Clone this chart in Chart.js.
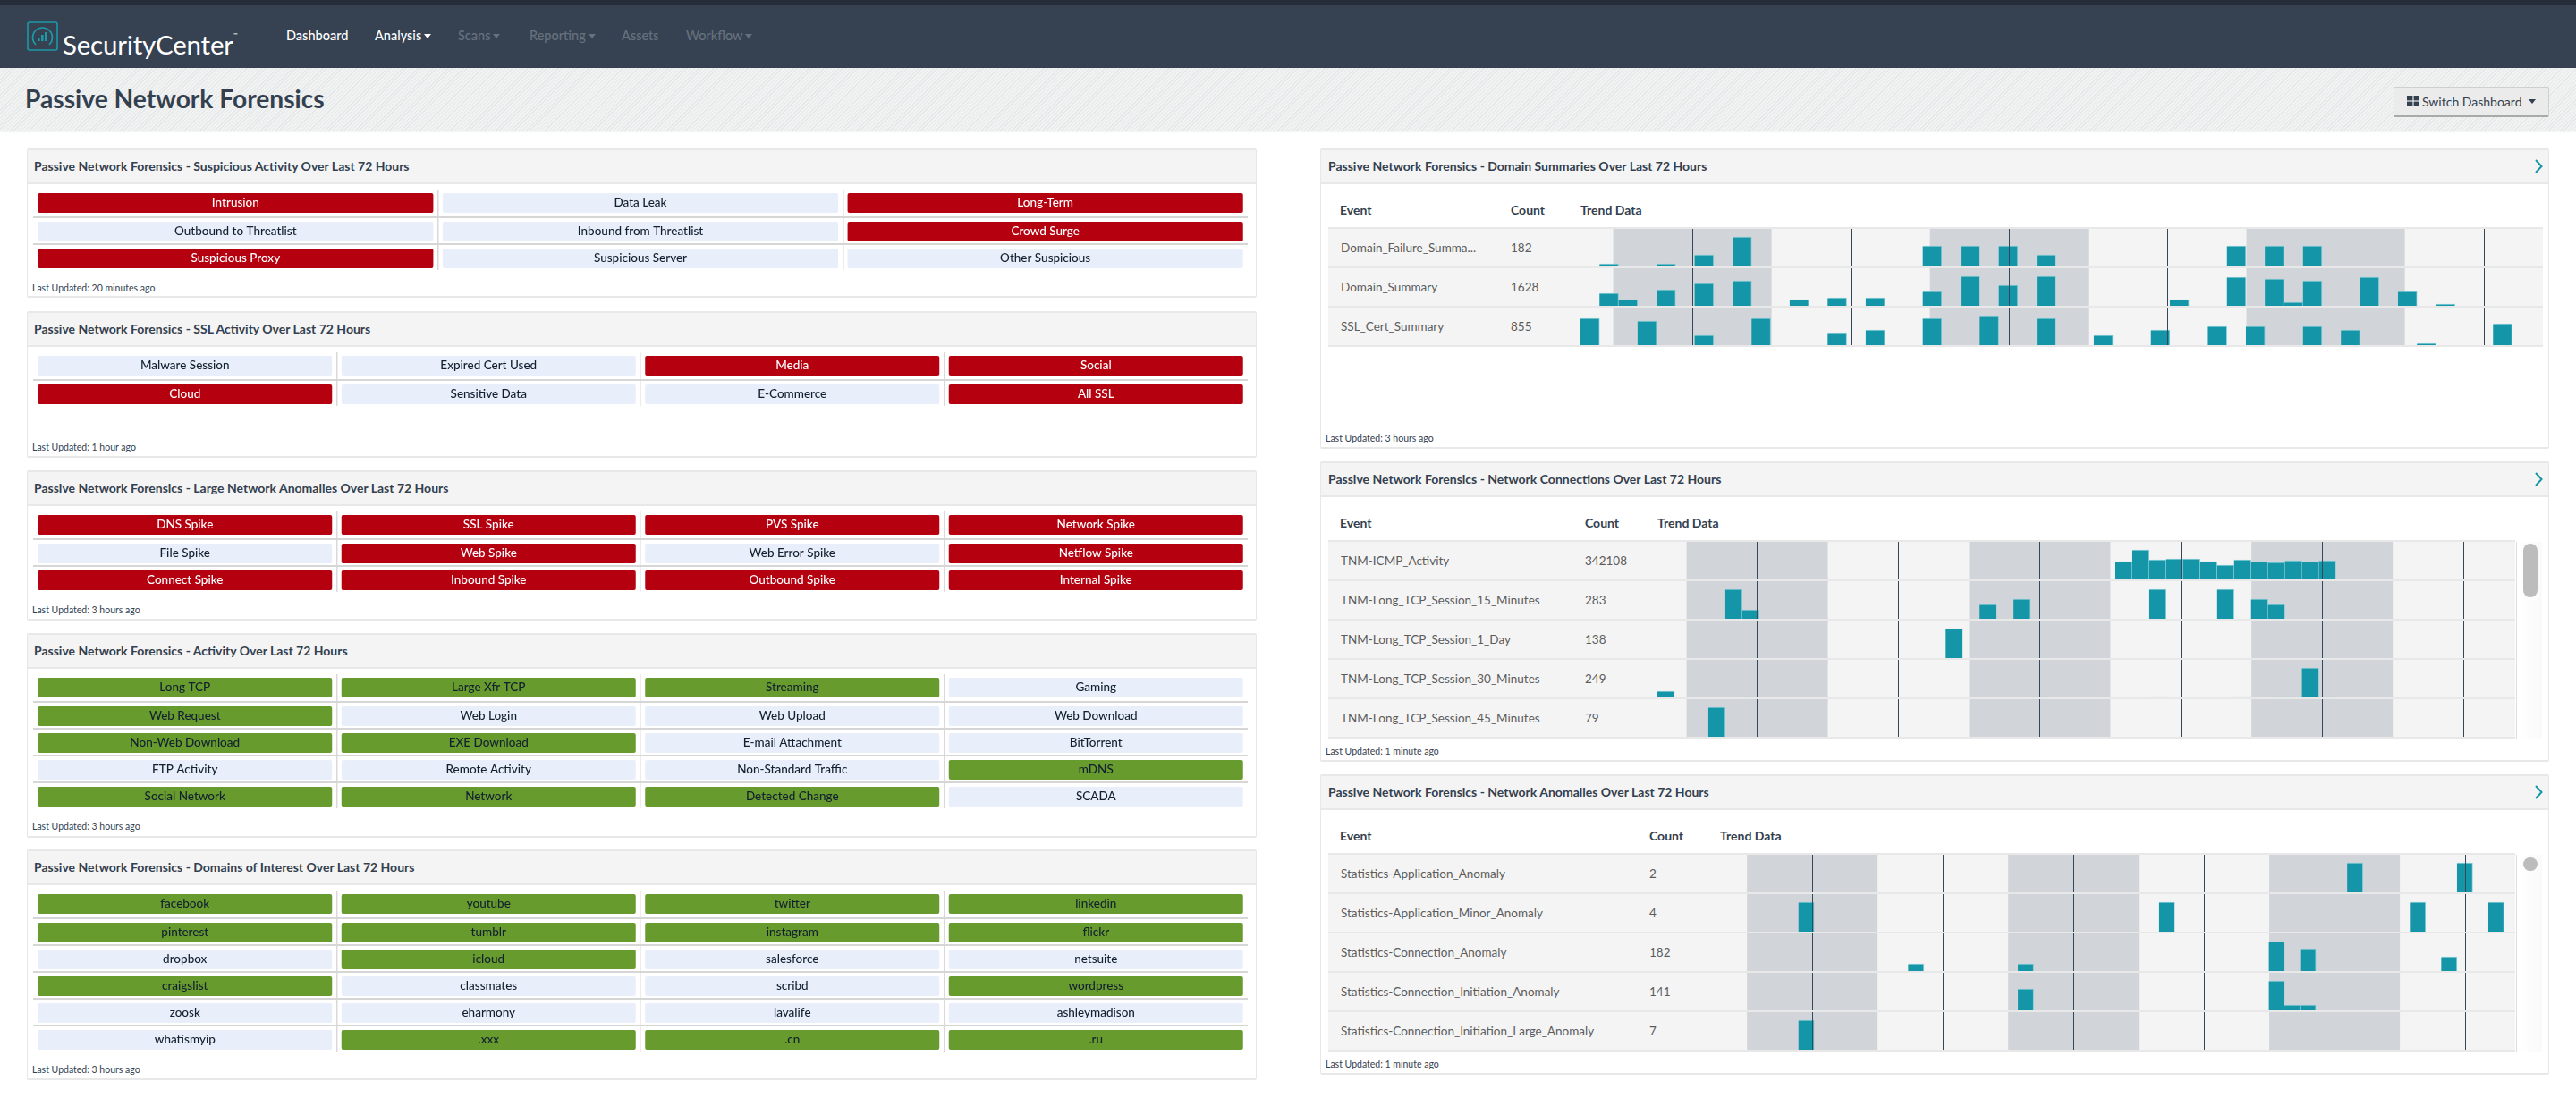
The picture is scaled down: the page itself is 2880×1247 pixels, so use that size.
<!DOCTYPE html>
<html>
<head>
<meta charset="utf-8">
<title>Passive Network Forensics</title>
<script src="https://cdn.jsdelivr.net/npm/chart.js@4/dist/chart.umd.min.js"></script>
<style>
  html, body { margin: 0; padding: 0; background: #fff; }
  body { position: relative; width: 2880px; height: 1247px; overflow: hidden; font-family: Lato, sans-serif; color: #33404f; }
  canvas { display: block; }

  #topline { position: absolute; left: 0; top: 0; width: 100%; height: 6px; background: #262d38; }
  #nav { position: absolute; left: 0; top: 6px; width: 100%; height: 70px; background: #364252; }
  #logo { position: absolute; left: 30px; top: 18px; }
  #brand { position: absolute; left: 70px; top: 10px; font-size: 29.5px; line-height: 46px; color: #fff; letter-spacing: -0.2px; }
  #brand sup { font-size: 6px; vertical-align: 20px; letter-spacing: 0; }
  .navitem { position: absolute; top: 24px; font-size: 14.5px; line-height: 20px; color: #fff; font-weight: 500; white-space: nowrap; }
  .navitem.off { color: #66717f; }
  .caret { display: inline-block; margin-left: 3px; vertical-align: 2px; border-left: 4.5px solid transparent; border-right: 4.5px solid transparent; border-top: 5px solid currentColor; }

  #band { position: absolute; left: 0; top: 76px; width: 100%; height: 70px; background: repeating-linear-gradient(135deg, #e6e7e8 0 1px, #f1f2f2 1px 3px); box-shadow: 0 1px 2px rgba(0,0,0,.12); }
  #band h1 { position: absolute; left: 28px; top: 14px; margin: 0; font-size: 28.2px; line-height: 40px; font-weight: 700; color: #33404f; }
  #switch { position: absolute; left: 2676px; top: 21px; width: 174px; height: 34px; box-sizing: border-box; background: #ebebeb; border: 1px solid #cfcfcf; border-bottom: 2px solid #a9a9a9; border-radius: 2px; font-size: 14px; line-height: 29px; color: #33404f; white-space: nowrap; }
  #switch svg { position: absolute; left: 14px; top: 9px; }
  #switch span { position: absolute; left: 31px; top: 1px; }
  #switch .caret { position: absolute; left: 150px; top: 13px; margin: 0; }

  .panel { position: absolute; box-sizing: border-box; background: #fff; border: 1px solid #e8e8e8; border-top-width: 2px; border-bottom-width: 2px; border-radius: 2px; }
  .left { left: 30px; width: 1375px; }
  .right { left: 1476px; width: 1374px; }
  .head { position: absolute; left: 0; right: 0; top: 0; height: 36px; background: #f4f4f4; border-bottom: 2px solid #e8e8e8; font-size: 14px; line-height: 35px; font-weight: 700; padding-left: 7px; color: #33404f; white-space: nowrap; }
  .right .head { padding-left: 8px; }
  .chev { position: absolute; right: 6px; top: 10px; }
  .updated { position: absolute; left: 5px; font-size: 10.5px; line-height: 14px; color: #33404f; white-space: nowrap; }
  .right .updated { left: 5px; }
  .matrix { position: absolute; left: 6px; }

  .thead { position: absolute; top: 58px; font-size: 14px; line-height: 18px; font-weight: 700; color: #33404f; white-space: nowrap; }
  .tbody { position: absolute; left: 8px; overflow: hidden; }
  .trow { position: relative; height: 42px; background: #f4f4f4; border-top: 2px solid #e8e8e8; font-size: 13.5px; line-height: 42px; color: #5c5c5c; white-space: nowrap; }
  .tend { height: 2px; background: #e8e8e8; }
  .tname { position: absolute; left: 14px; top: 0; }
  .tcount { position: absolute; top: 0; }
  .trend { position: absolute; top: 0; right: 0; height: 42px; overflow: hidden; }
  .scroll { position: absolute; width: 29px; background: linear-gradient(90deg, #fff, #fafafa); border-left: 1px solid #ddd; box-sizing: border-box; }
  .thumb { position: absolute; left: 7px; width: 16px; background: #bcbcbc; border-radius: 8px; }
</style>
</head>
<body>

<div id="topline"></div>
<div id="nav">
  <svg id="logo" width="36" height="33" viewBox="0 0 36 33">
    <rect x="1" y="1" width="33" height="31" rx="2" fill="none" stroke="#1b9aa8" stroke-width="1.6"/>
    <path d="M10 26 A11 11 0 1 1 25 26" fill="none" stroke="#1b9aa8" stroke-width="1.6"/>
    <rect x="12" y="18" width="2.6" height="4" fill="#1b9aa8"/><rect x="16" y="15" width="2.6" height="7" fill="#1b9aa8"/><rect x="20" y="12" width="2.6" height="10" fill="#1b9aa8"/>
  </svg>
  <div id="brand">SecurityCenter<sup>™</sup></div>
  <div class="navitem" style="left:320px">Dashboard</div>
  <div class="navitem" style="left:419px">Analysis<i class="caret"></i></div>
  <div class="navitem off" style="left:512px">Scans<i class="caret"></i></div>
  <div class="navitem off" style="left:592px">Reporting<i class="caret"></i></div>
  <div class="navitem off" style="left:695px">Assets</div>
  <div class="navitem off" style="left:767px">Workflow<i class="caret"></i></div>
</div>
<div id="band">
  <h1>Passive Network Forensics</h1>
  <div id="switch">
    <svg width="14" height="12" viewBox="0 0 14 12" fill="#33404f"><rect width="6.4" height="5.4"/><rect x="7.6" width="6.4" height="5.4"/><rect y="6.6" width="6.4" height="5.4"/><rect x="7.6" y="6.6" width="6.4" height="5.4"/></svg>
    <span>Switch Dashboard</span><i class="caret"></i>
  </div>
</div>

<div id="page"></div>

<script>
  // indicator matrices: labels, and which ones are lit (1) or not (0)
  const suspiciousLabels = ['Intrusion', 'Data Leak', 'Long-Term', 'Outbound to Threatlist', 'Inbound from Threatlist', 'Crowd Surge', 'Suspicious Proxy', 'Suspicious Server', 'Other Suspicious'];
  const suspiciousLit = [1, 0, 1, 0, 0, 1, 1, 0, 0];

  const sslLabels = ['Malware Session', 'Expired Cert Used', 'Media', 'Social', 'Cloud', 'Sensitive Data', 'E-Commerce', 'All SSL'];
  const sslLit = [0, 0, 1, 1, 1, 0, 0, 1];

  const anomalyLabels = ['DNS Spike', 'SSL Spike', 'PVS Spike', 'Network Spike', 'File Spike', 'Web Spike', 'Web Error Spike', 'Netflow Spike', 'Connect Spike', 'Inbound Spike', 'Outbound Spike', 'Internal Spike'];
  const anomalyLit = [1, 1, 1, 1, 0, 1, 0, 1, 1, 1, 1, 1];

  const activityLabels = ['Long TCP', 'Large Xfr TCP', 'Streaming', 'Gaming', 'Web Request', 'Web Login', 'Web Upload', 'Web Download', 'Non-Web Download', 'EXE Download', 'E-mail Attachment', 'BitTorrent', 'FTP Activity', 'Remote Activity', 'Non-Standard Traffic', 'mDNS', 'Social Network', 'Network', 'Detected Change', 'SCADA'];
  const activityLit = [1, 1, 1, 0, 1, 0, 0, 0, 1, 1, 0, 0, 0, 0, 0, 1, 1, 1, 1, 0];

  const domainLabels = ['facebook', 'youtube', 'twitter', 'linkedin', 'pinterest', 'tumblr', 'instagram', 'flickr', 'dropbox', 'icloud', 'salesforce', 'netsuite', 'craigslist', 'classmates', 'scribd', 'wordpress', 'zoosk', 'eharmony', 'lavalife', 'ashleymadison', 'whatismyip', '.xxx', '.cn', '.ru'];
  const domainLit = [1, 1, 1, 1, 1, 1, 1, 1, 0, 1, 0, 0, 1, 0, 0, 1, 0, 0, 0, 0, 0, 1, 1, 1];

  // trend charts share the same 51 time buckets
  const trendBuckets = [0, 1, 2, 3, 4, 5, 6, 7, 8, 9, 10, 11, 12, 13, 14, 15, 16, 17, 18, 19, 20, 21, 22, 23, 24, 25, 26, 27, 28, 29, 30, 31, 32, 33, 34, 35, 36, 37, 38, 39, 40, 41, 42, 43, 44, 45, 46, 47, 48, 49, 50];
  const nightStarts = [1.72, 18.38, 35.03];
  const nightEnds = [10.05, 26.71, 43.36];
  const dayMarks = [5.88, 14.21, 22.54, 30.87, 39.2, 47.53];

  const failSlots = [1, 4, 6, 8, 18, 20, 22, 24, 34, 36, 38];
  const failValues = [3, 3, 13, 33, 23, 23, 23, 13, 23, 23, 23];
  const summarySlots = [1, 2, 4, 6, 8, 11, 13, 15, 18, 20, 22, 24, 31, 34, 36, 37, 38, 41, 43, 45];
  const summaryValues = [14, 7, 18, 25, 28, 7, 9, 9, 16, 33, 23, 33, 7, 32, 30, 4, 28, 32, 16, 2];
  const certSlots = [0, 3, 6, 9, 13, 15, 18, 21, 24, 27, 30, 33, 35, 38, 40, 44, 48];
  const certValues = [30, 27, 11, 30, 14, 17, 30, 33, 30, 11, 17, 21, 21, 21, 17, 2, 24];

  const icmpSlots = [27, 28, 29, 30, 31, 32, 33, 34, 35, 36, 37, 38, 39];
  const icmpValues = [20, 33, 22, 23, 23, 20, 16, 22, 20, 19, 21, 20, 21];
  const tcp15Slots = [4, 5, 19, 21, 29, 33, 35, 36];
  const tcp15Values = [33, 10, 16, 22, 33, 33, 22, 16];
  const tcp1dSlots = [17];
  const tcp1dValues = [33];
  const tcp30Slots = [0, 5, 22, 29, 34, 36, 37, 38, 39];
  const tcp30Values = [7, 1, 1, 1, 1, 1, 1, 33, 1];
  const tcp45Slots = [3];
  const tcp45Values = [33];

  const appSlots = [40, 47];
  const appValues = [33, 33];
  const appMinorSlots = [5, 28, 44, 49];
  const appMinorValues = [33, 33, 33, 33];
  const connSlots = [12, 19, 35, 37, 46];
  const connValues = [8, 8, 33, 25, 16];
  const initSlots = [19, 35, 36, 37];
  const initValues = [24, 33, 6, 6];
  const largeSlots = [5];
  const largeValues = [33];

  const RED = '#b5000f', GREEN = '#689b2e', PALE = '#e8eefa';
  const TEAL = '#1496a8', TEAL_EDGE = 'rgba(120,200,212,0.85)';
  const BAND = '#d1d5d9', MARK = '#37475a';
  const DARK_TEXT = '#12202f';

  Chart.defaults.animation = false;
  Chart.defaults.responsive = false;
  Chart.defaults.plugins.legend.display = false;
  Chart.defaults.plugins.tooltip.enabled = false;

  const page = document.getElementById('page');

  function el(tag, cls, parent, text) {
    const node = document.createElement(tag);
    if (cls) node.className = cls;
    if (text !== undefined) node.textContent = text;
    parent.appendChild(node);
    return node;
  }

  function makePanel(side, top, height, title) {
    const panel = el('div', 'panel ' + side, page);
    panel.style.top = top + 'px';
    panel.style.height = height + 'px';
    const head = el('div', 'head', panel, title);
    if (side === 'right') {
      head.insertAdjacentHTML('beforeend', '<svg class="chev" width="9" height="16" viewBox="0 0 9 16"><path d="M1 1 L7.5 8 L1 15" fill="none" stroke="#1496a8" stroke-width="2"/></svg>');
    }
    return panel;
  }

  function updatedLine(panel, y, text) {
    const line = el('div', 'updated', panel, text);
    line.style.top = (y - 7) + 'px';
  }

  // writes the label in the middle of each cell
  const cellLabels = {
    id: 'cellLabels',
    afterDatasetsDraw(chart) {
      const { ctx } = chart;
      const labels = chart.options.plugins.cellLabels.labels;
      const lit = chart.options.plugins.cellLabels.lit;
      const onColor = chart.options.plugins.cellLabels.onColor;
      ctx.save();
      ctx.font = '500 13.5px Lato';
      ctx.textAlign = 'center';
      ctx.textBaseline = 'middle';
      chart.getDatasetMeta(0).data.forEach((bar, i) => {
        ctx.fillStyle = lit[i] ? onColor : DARK_TEXT;
        ctx.fillText(labels[i], bar.x, (bar.y + bar.base) / 2);
      });
      ctx.restore();
    }
  };

  function makeMatrix(panel, top, labels, lit, columns, litColor, onColor) {
    const rowCount = Math.ceil(labels.length / columns);
    const width = 1358, height = rowCount * 30;
    const cellTop = r => 4 + 30 * r + (r > 0 ? 2 : 0);
    const cells = labels.map((label, i) => {
      const r = Math.floor(i / columns);
      return { x: i % columns, y: [cellTop(r), cellTop(r) + 22] };
    });
    const rowLines = [];
    for (let r = 1; r < rowCount; r++) rowLines.push(30 * r + 1);

    const holder = el('div', 'matrix', panel);
    holder.style.top = top + 'px';
    const canvas = el('canvas', '', holder);
    canvas.width = width;
    canvas.height = height;

    new Chart(canvas, {
      type: 'bar',
      data: {
        labels: trendBuckets.slice(0, columns),
        datasets: [{
          data: cells,
          backgroundColor: lit.map(v => v ? litColor : PALE),
          borderRadius: 2,
          borderSkipped: false,
          barPercentage: 1 - 10.5 / (width / columns),
          categoryPercentage: 1
        }]
      },
      options: {
        layout: { padding: 0 },
        scales: {
          x: {
            offset: true,
            ticks: { display: false },
            border: { display: false },
            grid: {
              offset: true,
              drawTicks: false,
              lineWidth: 1.5,
              color: ctx => (ctx.index > 0 && ctx.index < columns ? '#d9d9d9' : 'transparent')
            }
          },
          y: {
            reverse: true,
            min: 0,
            max: height,
            afterBuildTicks: scale => { scale.ticks = rowLines.map(value => ({ value })); },
            ticks: { display: false },
            border: { display: false },
            grid: { drawTicks: false, lineWidth: 2, color: '#d6d6d6' }
          }
        },
        plugins: { cellLabels: { labels, lit, onColor } }
      },
      plugins: [cellLabels]
    });
  }

  // shaded night bands behind the bars, day marks in front of them
  const timeGrid = {
    id: 'timeGrid',
    beforeDatasetsDraw(chart) {
      const { ctx, chartArea, scales: { x } } = chart;
      ctx.save();
      ctx.fillStyle = BAND;
      nightStarts.forEach((start, i) => {
        const from = x.getPixelForValue(start - 0.5);
        const to = x.getPixelForValue(nightEnds[i] - 0.5);
        ctx.fillRect(from, chartArea.top, to - from, chartArea.bottom - chartArea.top);
      });
      ctx.restore();
    },
    afterDatasetsDraw(chart) {
      const { ctx, chartArea, scales: { x } } = chart;
      ctx.save();
      ctx.strokeStyle = MARK;
      ctx.lineWidth = 1;
      dayMarks.forEach(mark => {
        const px = Math.round(x.getPixelForValue(mark - 0.5)) + 0.5;
        ctx.beginPath();
        ctx.moveTo(px, chartArea.top);
        ctx.lineTo(px, chartArea.bottom);
        ctx.stroke();
      });
      ctx.restore();
    }
  };

  function makeTrendTable(panel, tableTop, tableHeight, tableWidth, countX, trendX, trendWidth, rows) {
    el('div', 'thead', panel, 'Event').style.left = '21px';
    el('div', 'thead', panel, 'Count').style.left = countX + 'px';
    el('div', 'thead', panel, 'Trend Data').style.left = trendX + 'px';

    const body = el('div', 'tbody', panel);
    body.style.top = tableTop + 'px';
    body.style.height = tableHeight + 'px';
    body.style.width = tableWidth + 'px';

    rows.forEach(row => {
      const line = el('div', 'trow', body);
      el('div', 'tname', line, row[0]);
      el('div', 'tcount', line, row[1]).style.left = (countX - 8) + 'px';
      const trend = el('div', 'trend', line);
      trend.style.left = (trendX - 8) + 'px';
      const canvas = el('canvas', '', trend);
      canvas.width = trendWidth;
      canvas.height = 42;

      new Chart(canvas, {
        type: 'bar',
        data: {
          labels: trendBuckets,
          datasets: [{
            data: row[2].map((slot, i) => ({ x: slot, y: row[3][i] })),
            backgroundColor: TEAL,
            borderColor: TEAL_EDGE,
            borderWidth: { top: 1, right: 1, bottom: 0, left: 0 },
            borderSkipped: false,
            barPercentage: 1,
            categoryPercentage: 1
          }]
        },
        options: {
          layout: { padding: 0 },
          scales: {
            x: { display: false },
            y: { display: false, min: 0, max: 42 }
          }
        },
        plugins: [timeGrid]
      });
    });
    el('div', 'tend', body);
    return body;
  }

  function makeScroll(panel, top, height, thumbTop, thumbHeight) {
    const track = el('div', 'scroll', panel);
    track.style.left = '1336px';
    track.style.top = top + 'px';
    track.style.height = height + 'px';
    const thumb = el('div', 'thumb', track);
    thumb.style.top = thumbTop + 'px';
    thumb.style.height = thumbHeight + 'px';
  }

  // left column
  let panel = makePanel('left', 166, 167, 'Passive Network Forensics - Suspicious Activity Over Last 72 Hours');
  makeMatrix(panel, 44, suspiciousLabels, suspiciousLit, 3, RED, '#fff');
  updatedLine(panel, 154, 'Last Updated: 20 minutes ago');

  panel = makePanel('left', 348, 164, 'Passive Network Forensics - SSL Activity Over Last 72 Hours');
  makeMatrix(panel, 44, sslLabels, sslLit, 4, RED, '#fff');
  updatedLine(panel, 150, 'Last Updated: 1 hour ago');

  panel = makePanel('left', 526, 168, 'Passive Network Forensics - Large Network Anomalies Over Last 72 Hours');
  makeMatrix(panel, 44, anomalyLabels, anomalyLit, 4, RED, '#fff');
  updatedLine(panel, 154, 'Last Updated: 3 hours ago');

  panel = makePanel('left', 708, 229, 'Passive Network Forensics - Activity Over Last 72 Hours');
  makeMatrix(panel, 44, activityLabels, activityLit, 4, GREEN, DARK_TEXT);
  updatedLine(panel, 214, 'Last Updated: 3 hours ago');

  panel = makePanel('left', 950, 258, 'Passive Network Forensics - Domains of Interest Over Last 72 Hours');
  makeMatrix(panel, 44, domainLabels, domainLit, 4, GREEN, DARK_TEXT);
  updatedLine(panel, 244, 'Last Updated: 3 hours ago');

  // right column
  panel = makePanel('right', 166, 336, 'Passive Network Forensics - Domain Summaries Over Last 72 Hours');
  makeTrendTable(panel, 86, 134, 1358, 212, 290, 1084, [
    ['Domain_Failure_Summa...', '182', failSlots, failValues],
    ['Domain_Summary', '1628', summarySlots, summaryValues],
    ['SSL_Cert_Summary', '855', certSlots, certValues]
  ]);
  updatedLine(panel, 322, 'Last Updated: 3 hours ago');

  panel = makePanel('right', 516, 336, 'Passive Network Forensics - Network Connections Over Last 72 Hours');
  makeTrendTable(panel, 86, 223, 1327, 295, 376, 967, [
    ['TNM-ICMP_Activity', '342108', icmpSlots, icmpValues],
    ['TNM-Long_TCP_Session_15_Minutes', '283', tcp15Slots, tcp15Values],
    ['TNM-Long_TCP_Session_1_Day', '138', tcp1dSlots, tcp1dValues],
    ['TNM-Long_TCP_Session_30_Minutes', '249', tcp30Slots, tcp30Values],
    ['TNM-Long_TCP_Session_45_Minutes', '79', tcp45Slots, tcp45Values],
    ['', '', [], []]
  ]);
  makeScroll(panel, 88, 221, 2, 60);
  updatedLine(panel, 322, 'Last Updated: 1 minute ago');

  panel = makePanel('right', 866, 336, 'Passive Network Forensics - Network Anomalies Over Last 72 Hours');
  makeTrendTable(panel, 86, 223, 1327, 367, 446, 894, [
    ['Statistics-Application_Anomaly', '2', appSlots, appValues],
    ['Statistics-Application_Minor_Anomaly', '4', appMinorSlots, appMinorValues],
    ['Statistics-Connection_Anomaly', '182', connSlots, connValues],
    ['Statistics-Connection_Initiation_Anomaly', '141', initSlots, initValues],
    ['Statistics-Connection_Initiation_Large_Anomaly', '7', largeSlots, largeValues],
    ['', '', [], []]
  ]);
  makeScroll(panel, 88, 221, 3, 15);
  updatedLine(panel, 322, 'Last Updated: 1 minute ago');
</script>
</body>
</html>
